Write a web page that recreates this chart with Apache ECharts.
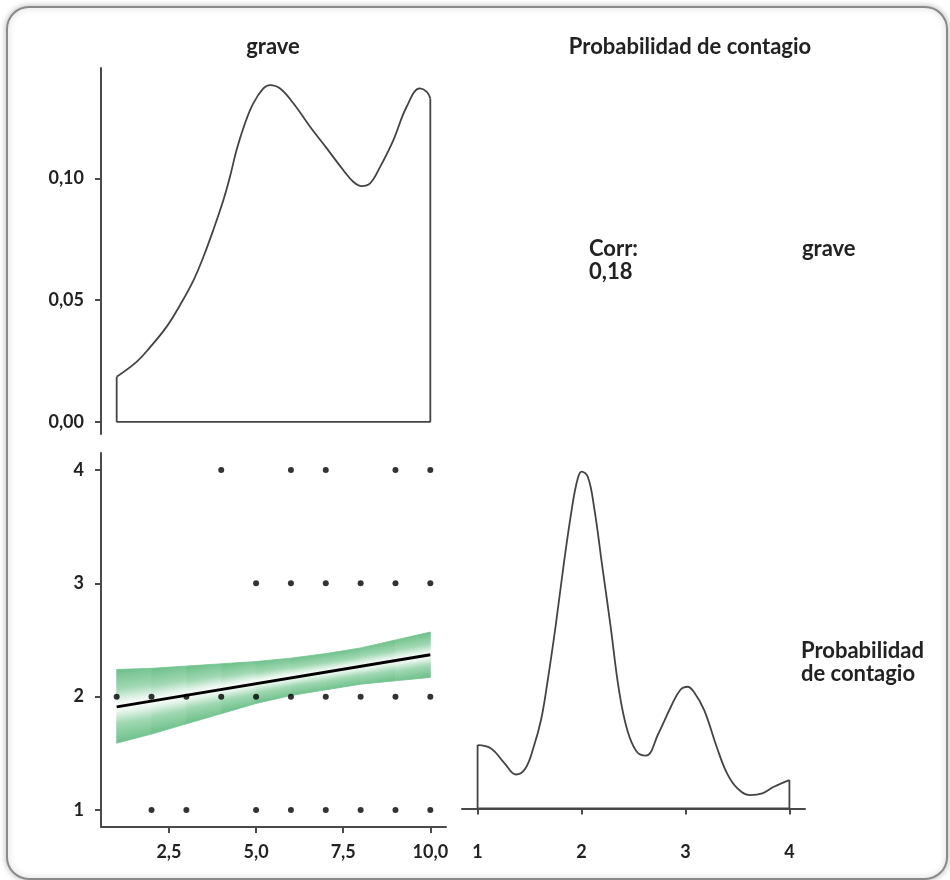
<!DOCTYPE html>
<html>
<head>
<meta charset="utf-8" />
<title>grave / Probabilidad de contagio</title>
<script src="https://cdn.jsdelivr.net/npm/echarts@6/dist/echarts.min.js"></script>
<style>
  html, body { margin: 0; padding: 0; background: #ffffff; }
  #main { width: 950px; height: 880px; }
</style>
</head>
<body>
<div id="main"></div>
<script type="text/javascript">
// densidad de "grave" (panel superior izquierdo)
var graveDensX = [1.0, 1.57, 1.95, 2.43, 2.82, 3.2, 3.49, 3.77, 4.06, 4.25, 4.44, 4.68, 4.92, 5.21, 5.4, 5.69, 6.07, 6.55, 7.03, 7.5, 7.79, 8.03, 8.27, 8.56, 8.94, 9.32, 9.7, 9.9, 10.0];
var graveDensY = [0.0185, 0.0246, 0.0305, 0.039, 0.048, 0.058, 0.0678, 0.0787, 0.091, 0.1006, 0.1116, 0.1225, 0.1308, 0.1369, 0.1383, 0.1369, 0.1308, 0.1212, 0.1123, 0.1034, 0.0986, 0.0968, 0.0979, 0.1047, 0.1157, 0.1294, 0.1369, 0.1355, 0.1328];

// densidad de "Probabilidad de contagio" (panel inferior derecho)
var probDensX = [1.0, 1.13, 1.26, 1.37, 1.46, 1.54, 1.61, 1.67, 1.75, 1.83, 1.91, 1.96, 2.0, 2.06, 2.12, 2.2, 2.28, 2.36, 2.44, 2.53, 2.62, 2.74, 2.86, 2.95, 3.02, 3.08, 3.18, 3.3, 3.4, 3.5, 3.62, 3.74, 3.85, 4.0];
var probDensY = [0.198, 0.1875, 0.1406, 0.106, 0.125, 0.1925, 0.276, 0.39, 0.5675, 0.7656, 0.9425, 1.026, 1.052, 1.036, 0.9425, 0.755, 0.5675, 0.37, 0.245, 0.178, 0.165, 0.234, 0.3175, 0.37, 0.38, 0.3644, 0.307, 0.1925, 0.1094, 0.0625, 0.0416, 0.0469, 0.0675, 0.0885];

// puntos del diagrama de dispersion
var scatterGrave = [4, 6, 7, 9, 10,  5, 6, 7, 8, 9, 10,  1, 2, 3, 4, 5, 6, 7, 8, 9, 10,  2, 3, 5, 6, 7, 8, 9, 10];
var scatterProb  = [4, 4, 4, 4, 4,   3, 3, 3, 3, 3, 3,   2, 2, 2, 2, 2, 2, 2, 2, 2, 2,   1, 1, 1, 1, 1, 1, 1, 1];

// recta de regresion y banda de confianza
var fitX = [1, 10];
var fitY = [1.91, 2.37];
var bandX = [1, 2, 3, 4, 5, 6, 7, 8, 9, 10];
var bandUpper = [2.24, 2.25, 2.27, 2.29, 2.31, 2.34, 2.38, 2.43, 2.50, 2.57];
var bandLower = [1.59, 1.67, 1.76, 1.85, 1.94, 2.01, 2.06, 2.11, 2.14, 2.17];

// marcas de los ejes
var densTicks = [0, 0.05, 0.10];
var graveTicks = [2.5, 5, 7.5, 10];
var probTicks = [1, 2, 3, 4];
var corrValue = 0.18;

var myChart = echarts.init(document.getElementById('main'));

var FONT = 'Lato';
var axisCol = '#4a4a4a';
var labelStyle = { color: '#222', fontWeight: 'bold', fontFamily: FONT, fontSize: 18 };
var stripFont = 'bold 22px Lato';

function zip(xs, ys) {
  return xs.map(function (x, i) { return [x, ys[i]]; });
}

// contorno cerrado de una densidad (lados verticales y base)
function densBox(xs, ys) {
  var n = xs.length - 1;
  return [[xs[0], ys[0]], [xs[0], 0], [xs[n], 0], [xs[n], ys[n]]];
}

// banda con degradado: blanco sobre la recta, verde hacia los bordes
function renderBand(params, api) {
  var i = params.dataIndex;
  var u0 = api.coord([bandX[i], bandUpper[i]]);
  var u1 = api.coord([bandX[i + 1], bandUpper[i + 1]]);
  var l0 = api.coord([bandX[i], bandLower[i]]);
  var l1 = api.coord([bandX[i + 1], bandLower[i + 1]]);
  var c0 = [(u0[0] + l0[0]) / 2, (u0[1] + l0[1]) / 2];
  var c1 = [(u1[0] + l1[0]) / 2, (u1[1] + l1[1]) / 2];
  var dx = c1[0] - c0[0], dy = c1[1] - c0[1];
  var len = Math.sqrt(dx * dx + dy * dy);
  var nx = -dy / len, ny = dx / len;
  var cm = [(c0[0] + c1[0]) / 2, (c0[1] + c1[1]) / 2];
  var hw = ((l0[1] - u0[1]) + (l1[1] - u1[1])) / 4 * (dx / len);
  var grad = new echarts.graphic.LinearGradient(
    cm[0] - nx * hw, cm[1] - ny * hw, cm[0] + nx * hw, cm[1] + ny * hw,
    [
      { offset: 0, color: '#72c28e' },
      { offset: 0.25, color: '#a0d8b2' },
      { offset: 0.40, color: '#dff2e6' },
      { offset: 0.5, color: '#ffffff' },
      { offset: 0.60, color: '#dff2e6' },
      { offset: 0.75, color: '#a0d8b2' },
      { offset: 1, color: '#72c28e' }
    ], true);
  return {
    type: 'polygon',
    shape: { points: [u0, u1, l1, l0] },
    style: { fill: grad, stroke: grad, lineWidth: 0.8 }
  };
}

function strip(text, x, y, align) {
  return { type: 'text', x: x, y: y, style: { text: text, fill: '#222', font: stripFont, align: align || 'left', verticalAlign: 'middle' } };
}

var option = {
  animation: false,
  backgroundColor: '#ffffff',
  graphic: [
    {
      type: 'rect', z: -10,
      shape: { x: 7, y: 7, width: 940, height: 872, r: 22 },
      style: { fill: '#ffffff', stroke: '#8a8a8a', lineWidth: 2, shadowBlur: 6, shadowColor: 'rgba(0,0,0,0.25)' }
    },
    strip('grave', 273, 47, 'center'),
    strip('Probabilidad de contagio', 690, 47, 'center'),
    strip('Corr:', 589, 249),
    strip(corrValue.toFixed(2).replace('.', ','), 589, 272),
    strip('grave', 802, 249),
    strip('Probabilidad', 801, 651),
    strip('de contagio', 801, 674)
  ],
  grid: [
    { left: 101, top: 68, width: 345, height: 366 },
    { left: 101, top: 453, width: 345, height: 374 },
    { left: 462, top: 453, width: 343, height: 374 }
  ],
  xAxis: [
    { gridIndex: 0, type: 'value', min: 0.55, max: 10.45, show: false },
    {
      gridIndex: 1, type: 'value', min: 0.55, max: 10.45,
      axisLine: { show: true, lineStyle: { color: axisCol, width: 2 } },
      axisTick: { show: true, length: 6, customValues: graveTicks, lineStyle: { color: axisCol, width: 2 } },
      axisLabel: Object.assign({ margin: 16, customValues: graveTicks, formatter: function (v) { return v.toFixed(1).replace('.', ','); } }, labelStyle),
      splitLine: { show: false }
    },
    {
      gridIndex: 2, type: 'value', min: 0.85, max: 4.15,
      axisLine: { show: true, lineStyle: { color: axisCol, width: 2 } },
      axisTick: { show: true, length: 6, customValues: probTicks, lineStyle: { color: axisCol, width: 2 } },
      axisLabel: Object.assign({ margin: 16, customValues: probTicks }, labelStyle),
      splitLine: { show: false }
    }
  ],
  yAxis: [
    {
      gridIndex: 0, type: 'value', min: -0.005, max: 0.1453,
      axisLine: { show: true, lineStyle: { color: axisCol, width: 2 } },
      axisTick: { show: true, length: 6, customValues: densTicks, lineStyle: { color: axisCol, width: 2 } },
      axisLabel: Object.assign({ margin: 17, customValues: densTicks, formatter: function (v) { return v.toFixed(2).replace('.', ','); } }, labelStyle),
      splitLine: { show: false }
    },
    {
      gridIndex: 1, type: 'value', min: 0.85, max: 4.15,
      axisLine: { show: true, lineStyle: { color: axisCol, width: 2 } },
      axisTick: { show: true, length: 6, customValues: probTicks, lineStyle: { color: axisCol, width: 2 } },
      axisLabel: Object.assign({ margin: 17, customValues: probTicks }, labelStyle),
      splitLine: { show: false }
    },
    { gridIndex: 2, type: 'value', min: -0.058, max: 1.11, show: false }
  ],
  series: [
    {
      type: 'line', xAxisIndex: 0, yAxisIndex: 0, smooth: 0.4, symbol: 'none',
      lineStyle: { color: '#444', width: 1.8 }, data: zip(graveDensX, graveDensY)
    },
    {
      type: 'line', xAxisIndex: 0, yAxisIndex: 0, symbol: 'none',
      lineStyle: { color: '#444', width: 1.8 }, data: densBox(graveDensX, graveDensY)
    },
    {
      type: 'custom', xAxisIndex: 1, yAxisIndex: 1, z: 1, silent: true,
      renderItem: renderBand,
      data: bandX.slice(0, -1).map(function (x, i) { return [x, bandLower[i]]; })
    },
    {
      type: 'scatter', xAxisIndex: 1, yAxisIndex: 1, z: 3, symbolSize: 6,
      itemStyle: { color: '#000' }, data: zip(scatterGrave, scatterProb)
    },
    {
      type: 'line', xAxisIndex: 1, yAxisIndex: 1, z: 4, symbol: 'none',
      lineStyle: { color: '#000', width: 3 }, data: zip(fitX, fitY)
    },
    {
      type: 'line', xAxisIndex: 2, yAxisIndex: 2, smooth: 0.4, symbol: 'none',
      lineStyle: { color: '#444', width: 1.8 }, data: zip(probDensX, probDensY)
    },
    {
      type: 'line', xAxisIndex: 2, yAxisIndex: 2, symbol: 'none',
      lineStyle: { color: '#444', width: 1.8 }, data: densBox(probDensX, probDensY)
    }
  ]
};

myChart.setOption(option);
</script>
</body>
</html>
